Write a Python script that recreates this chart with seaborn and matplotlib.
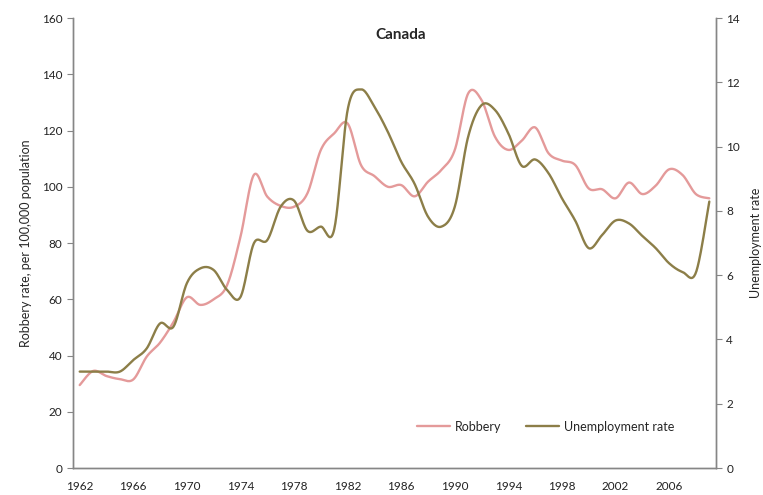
import numpy as np
import pandas as pd
import matplotlib.pyplot as plt
import seaborn as sns

years = list(range(1962, 2010))
robbery = [29.5, 34.5, 32.7, 31.6, 31.5, 39.6, 44.6, 51.9, 60.7, 58.0,
           60.0, 65.0, 82.2, 104.2, 96.5, 93.2, 92.9, 97.7, 113.1, 119.0,
           122.5, 107.7, 103.8, 100.0, 100.6, 96.6, 101.8, 106.0, 113.1, 133.2,
           130.8, 117.8, 113.1, 116.4, 121.1, 111.9, 109.3, 107.7, 99.4, 99.1,
           95.9, 101.5, 97.4, 100.4, 106.2, 104.2, 97.4, 95.9]
unemployment = [3.0, 3.0, 3.0, 3.0, 3.36, 3.72, 4.5, 4.4, 5.75, 6.21,
                6.16, 5.54, 5.32, 6.99, 7.09, 8.13, 8.32, 7.38, 7.51, 7.43,
                11.14, 11.78, 11.24, 10.46, 9.53, 8.84, 7.82, 7.51, 8.13, 10.31,
                11.29, 11.14, 10.41, 9.4, 9.6, 9.17, 8.39, 7.69, 6.84, 7.25,
                7.7, 7.61, 7.22, 6.84, 6.37, 6.1, 6.08, 8.29]
tick_years = list(range(1962, 2010, 4))

pink = "#E49A9A"
olive = "#8C7E48"
grey = "#868686"


def smooth(x, y, n=24):
    # bezier smoothing like the spreadsheet "smoothed line"
    x = np.asarray(x, float)
    y = np.asarray(y, float)
    px = np.concatenate([[x[0]], x, [x[-1]]])
    py = np.concatenate([[y[0]], y, [y[-1]]])
    t = np.linspace(0, 1, n, endpoint=False)
    xs, ys = [], []
    for i in range(1, len(px) - 2):
        c1x = px[i] + (px[i + 1] - px[i - 1]) / 6
        c1y = py[i] + (py[i + 1] - py[i - 1]) / 6
        c2x = px[i + 1] - (px[i + 2] - px[i]) / 6
        c2y = py[i + 1] - (py[i + 2] - py[i]) / 6
        b0 = (1 - t) ** 3
        b1 = 3 * (1 - t) ** 2 * t
        b2 = 3 * (1 - t) * t ** 2
        b3 = t ** 3
        xs.append(b0 * px[i] + b1 * c1x + b2 * c2x + b3 * px[i + 1])
        ys.append(b0 * py[i] + b1 * c1y + b2 * c2y + b3 * py[i + 1])
    xs.append([x[-1]])
    ys.append([y[-1]])
    return np.concatenate(xs), np.concatenate(ys)


sns.set_style("white")
plt.rcParams["font.family"] = ["Lato", "DejaVu Sans"]

rx, ry = smooth(years, robbery)
ux, uy = smooth(years, unemployment)
df_r = pd.DataFrame({"Year": rx, "Robbery": ry})
df_u = pd.DataFrame({"Year": ux, "Unemployment": uy})

fig = plt.figure(figsize=(7.63, 4.95), dpi=100)
ax = fig.add_axes([0.0957, 0.0545, 0.8427, 0.9091])
ax2 = ax.twinx()

sns.lineplot(data=df_r, x="Year", y="Robbery", ax=ax, color=pink,
             linewidth=1.7, sort=False, estimator=None, label="Robbery", legend=False)
sns.lineplot(data=df_u, x="Year", y="Unemployment", ax=ax2, color=olive,
             linewidth=1.7, sort=False, estimator=None, label="Unemployment rate", legend=False)

ax.set_xlim(years[0] - 0.5, years[-1] + 0.5)
ax.set_ylim(0, 160)
ax2.set_ylim(0, 14)
ax.set_yticks(range(0, 161, 20))
ax2.set_yticks(range(0, 15, 2))

ax.set_xticks(tick_years)
ax.set_xticks(np.arange(years[0] - 0.5, years[-1] + 1), minor=True)
ax.tick_params(axis="x", which="major", length=0, pad=9, labelsize=8.5, colors="#222222")
ax.tick_params(axis="x", which="minor", length=4, width=0.8, color=grey, direction="out")
ax.tick_params(axis="y", length=4, width=0.8, color=grey, direction="out",
               labelsize=8.5, labelcolor="#222222", left=True)
ax2.tick_params(axis="y", length=4, width=0.8, color=grey, direction="out",
                labelsize=8.5, labelcolor="#222222", right=True)

for a in (ax, ax2):
    a.spines["top"].set_visible(False)
    for s in ("left", "right", "bottom"):
        a.spines[s].set_color(grey)
        a.spines[s].set_linewidth(1)
    a.grid(False)

ax.set_xlabel("")
ax.set_ylabel("Robbery rate, per 100,000 population", fontsize=9, labelpad=7)
ax2.set_ylabel("Unemployment rate", fontsize=9, labelpad=7)
ax.text(0.51, 0.978, "Canada", transform=ax.transAxes, ha="center", va="top",
        fontsize=11, fontweight="bold")

h1, l1 = ax.get_legend_handles_labels()
h2, l2 = ax2.get_legend_handles_labels()
ax2.legend(h1 + h2, l1 + l2, loc="center", bbox_to_anchor=(0.735, 0.092), ncol=2,
           frameon=False, fontsize=9, handlelength=2.6, columnspacing=2.0,
           handletextpad=0.4)

fig.savefig("out.png", dpi=100)
